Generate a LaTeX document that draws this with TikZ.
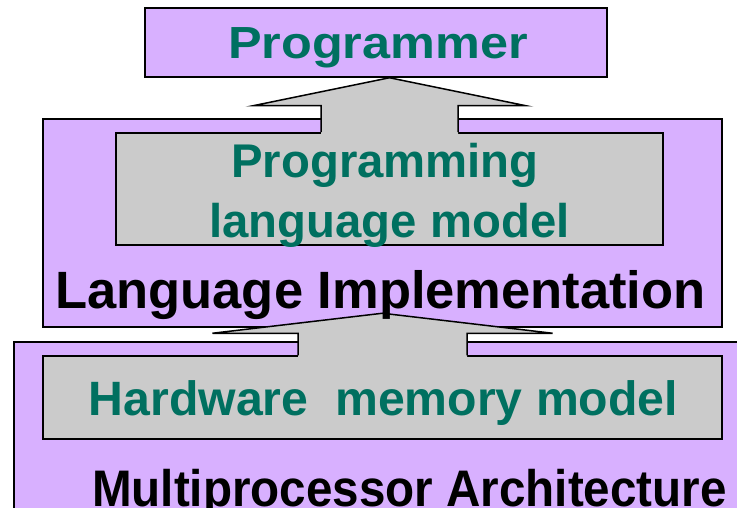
\documentclass[tikz,border=0pt]{standalone}
\usepackage{fontspec}
\setmainfont{Liberation Sans}
\usepackage{tikz}
\usetikzlibrary{calc}
\usetikzlibrary{positioning}
\definecolor{boxpurple}{RGB}{216,176,255}
\definecolor{boxgray}{RGB}{203,203,203}
\definecolor{textteal}{RGB}{0,112,96}
\tikzstyle{layerbox} = [draw, rectangle, fill=boxpurple, line width=1.5pt, inner sep=0pt]
\tikzstyle{modelbox} = [draw, rectangle, fill=boxgray, line width=1.5pt, inner sep=0pt]
\tikzstyle{arrowbody} = [fill=boxgray]
\tikzstyle{arrowedge} = [draw, line width=1.5pt, line join=miter]
\tikzstyle{modeltext} = [text=textteal, anchor=base, inner sep=0pt, font=\bfseries\fontsize{47.3}{54}\selectfont]
\tikzstyle{layertext} = [text=black, anchor=base, inner sep=0pt, font=\bfseries\fontsize{47.6}{54}\selectfont]

\begin{document}
\begin{tikzpicture}[x=1pt, y=-1pt]
  \useasboundingbox (0,0) rectangle (737,508);
  \clip (0,0) rectangle (737,508);

  % boxes
  \node[layerbox, minimum width=462, minimum height=69] (prog) at (376,42.5) {};
  \node[layerbox, minimum width=679, minimum height=208] (impl) at (382.5,223) {};
  \node[modelbox, minimum width=547, minimum height=112] (plm) at (389.5,189) {};
  \node[layerbox, minimum width=746, minimum height=188] (arch) at (387,436) {};
  \node[modelbox, minimum width=679, minimum height=83] (hmm) at (382.5,397.5) {};

  % arrow from language model to programmer
  \coordinate (tipA) at (plm.north |- prog.south);
  \fill[arrowbody] ($(plm.north)+(-68.5,2)$) -- ($(tipA)+(-68.5,28)$) -- ($(tipA)+(-136.5,28)$)
    -- (tipA) -- ($(tipA)+(136.5,28)$) -- ($(tipA)+(68.5,28)$) -- ($(plm.north)+(68.5,2)$) -- cycle;
  \draw[arrowedge] ($(plm.north)+(-68.5,0)$) -- ($(tipA)+(-68.5,28)$) -- ($(tipA)+(-136.5,28)$)
    -- (tipA) -- ($(tipA)+(136.5,28)$) -- ($(tipA)+(68.5,28)$) -- ($(plm.north)+(68.5,0)$);

  % arrow from hardware model to implementation
  \coordinate (tipB) at ($(hmm.north)+(0,-42)$);
  \fill[arrowbody] ($(hmm.north)+(-84.5,2)$) -- ($(tipB)+(-84.5,20)$) -- ($(tipB)+(-170,20)$)
    -- (tipB) -- ($(tipB)+(170,20)$) -- ($(tipB)+(84.5,20)$) -- ($(hmm.north)+(84.5,2)$) -- cycle;
  \draw[arrowedge] ($(hmm.north)+(-84.5,0)$) -- ($(tipB)+(-84.5,20)$) -- ($(tipB)+(-170,20)$)
    -- (tipB) -- ($(tipB)+(170,20)$) -- ($(tipB)+(84.5,20)$) -- ($(hmm.north)+(84.5,0)$);

  % labels
  \node[modeltext, font=\bfseries\fontsize{45}{52}\selectfont, xscale=1.12] (progtext) at (378,59) {Programmer};
  \node[modeltext] (plmtext1) at (385,178) {Programming};
  \node[modeltext] (plmtext2) at (389.5,237) {language model};
  \node[layertext, font=\bfseries\fontsize{52.5}{60}\selectfont] (impltext) at (380.5,308) {Language Implementation};
  \node[modeltext, font=\bfseries\fontsize{48.2}{54}\selectfont] (hmmtext) at (383.5,415) {Hardware\ \ memory model};
  \node[layertext, yscale=1.08] (archtext) at (409.5,506) {Multiprocessor Architecture};
\end{tikzpicture}
\end{document}
